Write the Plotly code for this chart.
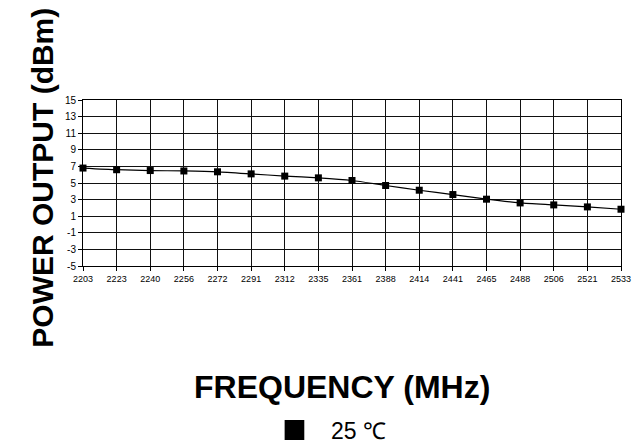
import plotly.graph_objects as go

freqs = ["2203", "2223", "2240", "2256", "2272", "2291", "2312", "2335", "2361",
         "2388", "2414", "2441", "2465", "2488", "2506", "2521", "2533"]
power_25c = [6.8, 6.6, 6.5, 6.45, 6.35, 6.1, 5.83, 5.62, 5.3,
             4.7, 4.13, 3.61, 3.05, 2.6, 2.36, 2.12, 1.84]
y_ticks = [-5, -3, -1, 1, 3, 5, 7, 9, 11, 13, 15]
y_ticktext = ["-5", "-3", "-1", "1", "3", "5", "7", "9", "11", "13", "15"]
series_name = "25 ℃"

W, H = 643, 444
ML, MR, MT, MB = 83, 13, 100, 178
PW, PH = W - ML - MR, H - MT - MB


def px_x(x):
    return (x - ML) / PW


def px_y(y):
    return (H - MB - y) / PH


fig = go.Figure()
fig.add_trace(go.Scatter(
    x=freqs, y=power_25c, mode="lines+markers", name=series_name,
    line=dict(color="black", width=1.2, shape="spline", smoothing=0.6),
    marker=dict(symbol="square", size=7, color="black"),
    showlegend=False, cliponaxis=False,
))

# legend key (square) drawn as a paper-referenced shape so it does not push margins
fig.add_shape(type="rect", xref="paper", yref="paper",
              x0=px_x(288), x1=px_x(308), y0=px_y(440), y1=px_y(420),
              fillcolor="black", line=dict(width=0))

fig.update_layout(
    width=W, height=H,
    margin=dict(l=ML, r=MR, t=MT, b=MB),
    paper_bgcolor="white", plot_bgcolor="white",
    showlegend=False,
    font=dict(family="Liberation Sans, Arial, sans-serif", color="black"),
    xaxis=dict(
        type="category", range=[0, len(freqs) - 1],
        showgrid=True, gridcolor="#111", gridwidth=1,
        showline=True, linecolor="black", linewidth=1, mirror=True,
        ticks="outside", ticklen=4, tickcolor="black",
        tickfont=dict(size=9, color="black"), tickangle=0,
    ),
    yaxis=dict(
        range=[-5, 15], tickvals=y_ticks, ticktext=y_ticktext,
        showgrid=True, gridcolor="#111", gridwidth=1,
        showline=True, linecolor="black", linewidth=1, mirror=True,
        ticks="outside", ticklen=4, tickcolor="black",
        tickfont=dict(size=10, color="black"), zeroline=False,
    ),
    annotations=[
        dict(text="<b>POWER OUTPUT (dBm)</b>", x=px_x(41), y=px_y(178),
             xref="paper", yref="paper", showarrow=False, textangle=-90,
             font=dict(size=30), xanchor="center", yanchor="middle"),
        dict(text="<b>FREQUENCY (MHz)</b>", x=px_x(346), y=px_y(387),
             xref="paper", yref="paper", showarrow=False,
             font=dict(size=32), xanchor="center", yanchor="middle"),
        dict(text=series_name, x=px_x(333), y=px_y(431),
             xref="paper", yref="paper", showarrow=False,
             font=dict(size=23), xanchor="left", yanchor="middle"),
    ],
)

js = """
document.documentElement.style.overflow = 'hidden';
document.body.style.margin = '0';
document.body.style.overflow = 'hidden';
"""
fig.write_html("out.html", config={"displayModeBar": False}, post_script=js)
